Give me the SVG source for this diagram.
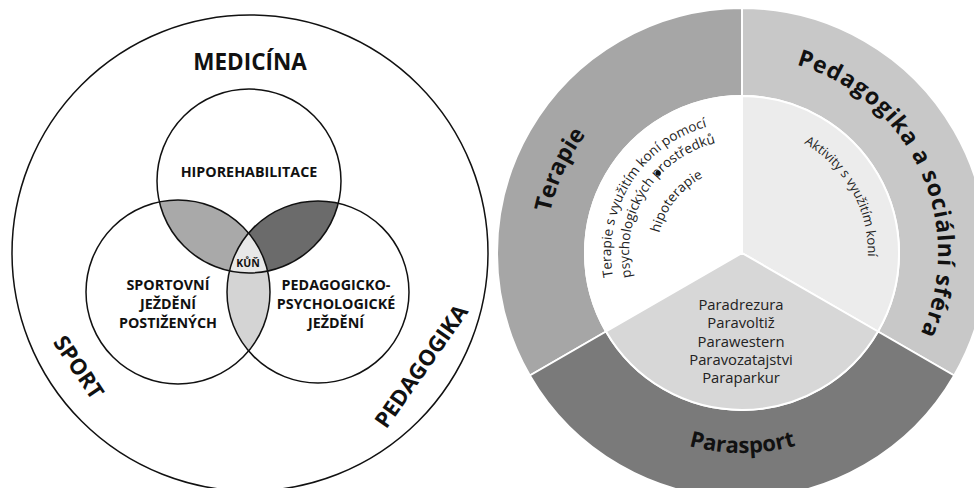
<svg xmlns="http://www.w3.org/2000/svg" xmlns:xlink="http://www.w3.org/1999/xlink" width="974" height="488" viewBox="0 0 974 488">
<style>
.ln{fill:none;stroke:#111;stroke-width:1.5}
.bt{font-family:"Open Sans","Liberation Sans",sans-serif;font-weight:bold;fill:#111}
.rt{font-family:"Open Sans","Liberation Sans",sans-serif;fill:#222}
.sec{stroke:#fff;stroke-width:2}
</style>
<defs>
<clipPath id="cTop"><circle cx="249" cy="181" r="92"/></clipPath>
<clipPath id="cLeft"><circle cx="178" cy="292" r="92"/></clipPath>
<path id="cw196" d="M742 449A196 196 0 0 1 742 57A196 196 0 0 1 742 449"/>
<path id="ccw200" d="M742 53A200 200 0 0 0 742 453A200 200 0 0 0 742 53"/>
<path id="cw131" d="M742 384A131 131 0 0 1 742 122A131 131 0 0 1 742 384"/>
<path id="cw113" d="M742 366A113 113 0 0 1 742 140A113 113 0 0 1 742 366"/>
<path id="cw85" d="M742 338A85 85 0 0 1 742 168A85 85 0 0 1 742 338"/>
<path id="cw126" d="M742 379A126 126 0 0 1 742 127A126 126 0 0 1 742 379"/>
</defs>
<rect width="974" height="488" fill="#fff"/>

<g id="venn">
  <g id="outer-circle"><circle class="ln" cx="250" cy="253" r="238"/></g>
  <g id="shade">
    <circle cx="178" cy="292" r="92" fill="#a9a9a9" clip-path="url(#cTop)"/>
    <circle cx="318" cy="292" r="91" fill="#6b6b6b" clip-path="url(#cTop)"/>
    <circle cx="318" cy="292" r="91" fill="#d4d4d4" clip-path="url(#cLeft)"/>
    <g clip-path="url(#cTop)"><circle cx="318" cy="292" r="91" fill="#e8e8e8" clip-path="url(#cLeft)"/></g>
  </g>
  <g id="hiporehabilitace"><circle class="ln" cx="249" cy="181" r="92"/><text class="bt" x="249" y="177" font-size="14.3" text-anchor="middle">HIPOREHABILITACE</text></g>
  <g id="sportovni"><circle class="ln" cx="178" cy="292" r="92"/><text class="bt" x="168" font-size="14.3" text-anchor="middle"><tspan x="168" y="290">SPORTOVNÍ</tspan><tspan x="168" y="309">JEŽDĚNÍ</tspan><tspan x="168" y="328">POSTIŽENÝCH</tspan></text></g>
  <g id="pedagogicko"><circle class="ln" cx="318" cy="292" r="91"/><text class="bt" x="336" font-size="14.3" text-anchor="middle"><tspan x="336" y="290">PEDAGOGICKO-</tspan><tspan x="336" y="309">PSYCHOLOGICKÉ</tspan><tspan x="336" y="328">JEŽDĚNÍ</tspan></text></g>
  <g id="kun"><text class="bt" x="248" y="267" font-size="10.5" text-anchor="middle">KŮŇ</text></g>
  <g id="medicina"><text class="bt" x="250" y="70" font-size="22.5" text-anchor="middle">MEDICÍNA</text></g>
  <g id="sport"><text class="bt" transform="translate(79,367) rotate(56)" y="8" font-size="22" text-anchor="middle">SPORT</text></g>
  <g id="pedagogika"><text class="bt" transform="translate(421,366) rotate(-55)" y="8" font-size="22" text-anchor="middle">PEDAGOGIKA</text></g>
</g>

<g id="wheel">
  <g id="terapie">
    <path class="sec" fill="#a6a6a6" d="M529.82 375.5A245 245 0 0 1 742 8L742 96A157 157 0 0 0 606.03 331.5Z"/>
    <path class="sec" fill="#ffffff" d="M742 253L606.03 331.5A157 157 0 0 1 742 96Z"/>
    <text class="bt" font-size="23"><textPath xlink:href="#cw196" href="#cw196" startOffset="391.7" text-anchor="middle">Terapie</textPath></text>
    <text class="rt" font-size="13.5"><textPath xlink:href="#cw131" href="#cw131" startOffset="278.9" text-anchor="middle">Terapie s využitím koní pomocí</textPath></text>
    <text class="rt" font-size="13.5"><textPath xlink:href="#cw113" href="#cw113" startOffset="240.6" text-anchor="middle">psychologických prostředků</textPath></text>
    <text class="rt" font-size="13.5"><textPath xlink:href="#cw85" href="#cw85" startOffset="189.9" text-anchor="middle">hipoterapie</textPath></text>
    <circle cx="658" cy="173" r="2.6" fill="#111"/>
  </g>
  <g id="pedagogika-socialni">
    <path class="sec" fill="#c8c8c8" d="M742 8A245 245 0 0 1 954.18 375.5L877.97 331.5A157 157 0 0 0 742 96Z"/>
    <path class="sec" fill="#ececec" d="M742 253L742 96A157 157 0 0 1 877.97 331.5Z"/>
    <text class="bt" font-size="23" letter-spacing="1"><textPath xlink:href="#cw196" href="#cw196" startOffset="839" text-anchor="middle">Pedagogika a sociální sféra</textPath></text>
    <text class="rt" font-size="13"><textPath xlink:href="#cw126" href="#cw126" startOffset="528.9" text-anchor="middle">Aktivity s využitím koní</textPath></text>
  </g>
  <g id="parasport">
    <path class="sec" fill="#7a7a7a" d="M954.18 375.5A245 245 0 0 1 529.82 375.5L606.03 331.5A157 157 0 0 0 877.97 331.5Z"/>
    <path class="sec" fill="#d7d7d7" d="M742 253L877.97 331.5A157 157 0 0 1 606.03 331.5Z"/>
    <text class="bt" font-size="22"><textPath xlink:href="#ccw200" href="#ccw200" startOffset="628.3" text-anchor="middle">Parasport</textPath></text>
    <text class="rt" font-size="14.8" text-anchor="middle"><tspan x="741" y="310">Paradrezura</tspan><tspan x="741" y="328">Paravoltiž</tspan><tspan x="741" y="347">Parawestern</tspan><tspan x="741" y="365">Paravozatajstvi</tspan><tspan x="741" y="383">Paraparkur</tspan></text>
  </g>
</g>
</svg>
